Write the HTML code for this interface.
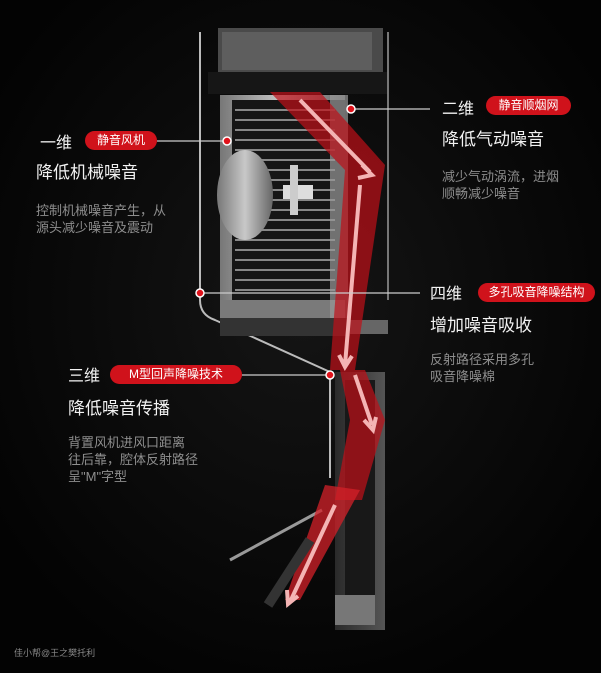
<!DOCTYPE html>
<html><head><meta charset="utf-8"><style>
body{margin:0;width:601px;height:673px;background:#050505;overflow:hidden;position:relative;font-family:"Liberation Sans","Noto Sans CJK SC",sans-serif;}
.t{position:absolute;color:#f2f2f2;white-space:nowrap;}
.h{font-size:16px;}
.ti{font-size:17px;}
.d{font-size:13px;color:#8e8e8e;line-height:17px;}
.p{position:absolute;background:#d0121b;color:#fff;font-size:12px;border-radius:10px;text-align:center;line-height:19px;height:19px;}
svg{position:absolute;left:0;top:0;}
</style></head><body>
<svg width="601" height="673" viewBox="0 0 601 673">
<defs>
<linearGradient id="g1" x1="0" x2="1"><stop offset="0" stop-color="#777"/><stop offset="0.5" stop-color="#c8c8c8"/><stop offset="1" stop-color="#666"/></linearGradient>
<linearGradient id="g2" x1="0" x2="1"><stop offset="0" stop-color="#2a2a2a"/><stop offset="1" stop-color="#555"/></linearGradient>
<radialGradient id="bg" cx="0.5" cy="0.45" r="0.6"><stop offset="0" stop-color="#151515"/><stop offset="1" stop-color="#030303"/></radialGradient>
</defs>
<rect width="601" height="673" fill="url(#bg)"/>
<rect x="218" y="28" width="165" height="46" fill="#4a4a4a"/>
<rect x="222" y="32" width="150" height="38" fill="#5e5e5e"/>
<rect x="208" y="72" width="180" height="22" fill="#161616"/>
<path d="M200 32 V300 Q200 315 215 320 L330 372 V478" stroke="#bbb" stroke-width="2" fill="none"/>
<line x1="388" y1="32" x2="388" y2="300" stroke="#777" stroke-width="2"/>
<rect x="220" y="95" width="125" height="222" fill="url(#g1)"/>
<rect x="232" y="100" width="113" height="200" fill="#161616"/>
<g stroke="#888" stroke-width="2">
<line x1="235" y1="110" x2="335" y2="110"/><line x1="235" y1="120" x2="335" y2="120"/><line x1="235" y1="130" x2="335" y2="130"/><line x1="235" y1="140" x2="335" y2="140"/><line x1="235" y1="150" x2="335" y2="150"/><line x1="235" y1="160" x2="335" y2="160"/><line x1="235" y1="170" x2="335" y2="170"/><line x1="235" y1="180" x2="335" y2="180"/><line x1="235" y1="190" x2="335" y2="190"/><line x1="235" y1="200" x2="335" y2="200"/><line x1="235" y1="210" x2="335" y2="210"/><line x1="235" y1="220" x2="335" y2="220"/><line x1="235" y1="230" x2="335" y2="230"/><line x1="235" y1="240" x2="335" y2="240"/><line x1="235" y1="250" x2="335" y2="250"/><line x1="235" y1="260" x2="335" y2="260"/><line x1="235" y1="270" x2="335" y2="270"/><line x1="235" y1="280" x2="335" y2="280"/><line x1="235" y1="290" x2="335" y2="290"/>
</g>
<rect x="220" y="300" width="125" height="18" fill="#7a7a7a"/>
<ellipse cx="245" cy="195" rx="28" ry="45" fill="url(#g1)"/>
<rect x="283" y="185" width="30" height="14" fill="#ddd"/>
<rect x="290" y="165" width="8" height="50" fill="#ccc"/>
<rect x="330" y="95" width="18" height="225" fill="#999" opacity="0.7"/>
<rect x="340" y="320" width="48" height="14" fill="#666"/>
<rect x="220" y="318" width="130" height="18" fill="#333"/>
<rect x="335" y="372" width="50" height="258" fill="url(#g2)"/>
<rect x="345" y="380" width="30" height="220" fill="#181818"/>
<rect x="335" y="595" width="40" height="30" fill="#777"/>
<line x1="322" y1="510" x2="230" y2="560" stroke="#999" stroke-width="3"/>
<path d="M270 92 L320 92 L385 165 L355 370 L330 370 L345 170 Z" fill="#c01018" opacity="0.7"/>
<path d="M340 370 L365 370 L385 420 L362 500 L335 500 L350 420 Z" fill="#c01018" opacity="0.7"/>
<path d="M325 485 L360 490 L300 600 L285 600 Z" fill="#d32028" opacity="0.75"/>
<g stroke="#f4b4b4" stroke-width="4" fill="none">
<path d="M300 100 L370 172"/><path d="M362 165 L372 175 L358 178"/>
<path d="M360 185 L345 365"/><path d="M339 355 L345 367 L352 356"/>
<path d="M355 375 L372 425"/><path d="M364 420 L373 430 L376 417"/>
<path d="M335 505 L290 602"/><path d="M287 590 L288 604 L298 596"/>
</g>
<path d="M310 540 L268 605" stroke="#333" stroke-width="10"/>
<g stroke="#ccc" stroke-width="1.2">
<line x1="157" y1="141" x2="227" y2="141"/>
<line x1="351" y1="109" x2="430" y2="109"/>
<line x1="200" y1="293" x2="420" y2="293"/>
<line x1="242" y1="375" x2="330" y2="375"/>
</g>
<g fill="#e0121b" stroke="#fff" stroke-width="1.5">
<circle cx="227" cy="141" r="4"/><circle cx="351" cy="109" r="4"/><circle cx="200" cy="293" r="4"/><circle cx="330" cy="375" r="4"/>
</g>
</svg>

<div class="t h" style="left:40px;top:129px">一维</div>
<div class="p" style="left:85px;top:131px;width:72px">静音风机</div>
<div class="t ti" style="left:36px;top:158px">降低机械噪音</div>
<div class="t d" style="left:36px;top:202px">控制机械噪音产生，从<br>源头减少噪音及震动</div>

<div class="t h" style="left:442px;top:95px">二维</div>
<div class="p" style="left:486px;top:96px;width:85px">静音顺烟网</div>
<div class="t ti" style="left:442px;top:125px">降低气动噪音</div>
<div class="t d" style="left:442px;top:168px">减少气动涡流，进烟<br>顺畅减少噪音</div>

<div class="t h" style="left:430px;top:280px">四维</div>
<div class="p" style="left:478px;top:283px;width:117px">多孔吸音降噪结构</div>
<div class="t ti" style="left:430px;top:311px">增加噪音吸收</div>
<div class="t d" style="left:430px;top:351px">反射路径采用多孔<br>吸音降噪棉</div>

<div class="t h" style="left:68px;top:362px">三维</div>
<div class="p" style="left:110px;top:365px;width:132px">M型回声降噪技术</div>
<div class="t ti" style="left:68px;top:394px">降低噪音传播</div>
<div class="t d" style="left:68px;top:434px">背置风机进风口距离<br>往后靠，腔体反射路径<br>呈"M"字型</div>

<div class="t" style="left:14px;top:646px;font-size:9px;color:#888">佳小帮@王之樊托利</div>
</body></html>
